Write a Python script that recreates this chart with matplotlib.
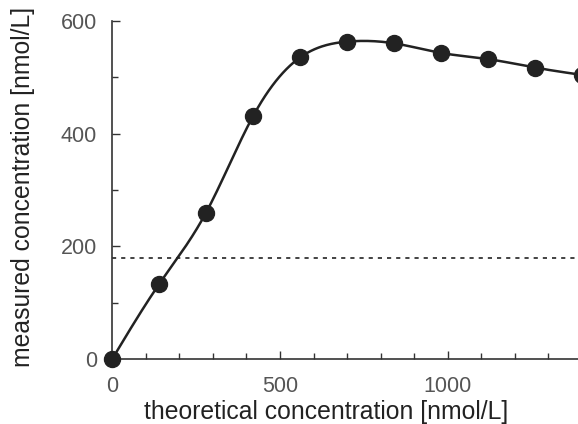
import numpy as np
import matplotlib.pyplot as plt
from matplotlib.ticker import MultipleLocator

# data
theo = [0, 140, 280, 420, 560, 700, 840, 980, 1120, 1260, 1400]
measured = [0, 133, 260, 431, 535, 563, 560, 543, 532, 517, 504]
threshold = 180


def natural_spline(x, y, xs):
    # plain natural cubic spline, only used to draw the smooth line
    x = np.asarray(x, float)
    y = np.asarray(y, float)
    n = len(x)
    h = np.diff(x)
    A = np.zeros((n, n))
    b = np.zeros(n)
    A[0, 0] = 1
    A[-1, -1] = 1
    for i in range(1, n - 1):
        A[i, i - 1] = h[i - 1]
        A[i, i] = 2 * (h[i - 1] + h[i])
        A[i, i + 1] = h[i]
        b[i] = 6 * ((y[i + 1] - y[i]) / h[i] - (y[i] - y[i - 1]) / h[i - 1])
    M = np.linalg.solve(A, b)
    idx = np.clip(np.searchsorted(x, xs) - 1, 0, n - 2)
    x0 = x[idx]
    x1 = x[idx + 1]
    hh = x1 - x0
    t0 = x1 - xs
    t1 = xs - x0
    return (M[idx] * t0 ** 3 / (6 * hh) + M[idx + 1] * t1 ** 3 / (6 * hh)
            + (y[idx] / hh - M[idx] * hh / 6) * t0
            + (y[idx + 1] / hh - M[idx + 1] * hh / 6) * t1)


plt.rcParams['font.family'] = ['Liberation Sans', 'DejaVu Sans']

fig = plt.figure(figsize=(5.78, 4.24), dpi=100)
ax = fig.add_axes([0.194, 0.153, 0.813, 0.798])

xs = np.linspace(theo[0], theo[-1], 400)
ax.plot(xs, natural_spline(theo, measured, xs), color='#222222', lw=1.8, clip_on=False)
ax.plot(theo, measured, 'o', color='#222222', ms=11.5, clip_on=False, zorder=5)
ax.axhline(threshold, color='#222222', lw=1.2, ls=(0, (2.5, 3)))

ax.set_xlim(0, 1400)
ax.set_ylim(0, 600)
ax.xaxis.set_major_locator(MultipleLocator(500))
ax.xaxis.set_minor_locator(MultipleLocator(100))
ax.yaxis.set_major_locator(MultipleLocator(200))
ax.yaxis.set_minor_locator(MultipleLocator(100))
ax.tick_params(which='both', direction='in', color='#333333', width=1)
ax.tick_params(which='major', length=6, labelsize=15.5, labelcolor='#555555')
ax.tick_params(axis='x', which='major', pad=12.5)
ax.tick_params(axis='y', which='major', pad=11)
ax.tick_params(which='minor', length=4)

for s in ['top', 'right']:
    ax.spines[s].set_visible(False)
for s in ['left', 'bottom']:
    ax.spines[s].set_color('#333333')
    ax.spines[s].set_linewidth(1.2)

ax.set_xlabel('theoretical concentration [nmol/L]', fontsize=17.8, color='#222222', va='top')
ax.xaxis.set_label_coords(0.455, -0.122)
ax.set_ylabel('measured concentration [nmol/L]', fontsize=17.8, color='#222222', va='center')
ax.yaxis.set_label_coords(-0.19, 0.51)

fig.savefig('out.png', dpi=100)
